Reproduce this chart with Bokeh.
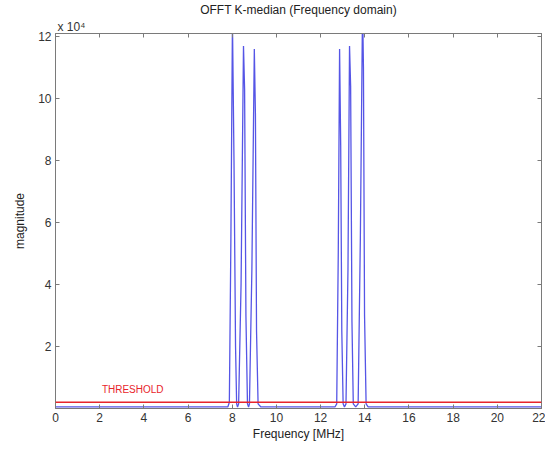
from bokeh.plotting import figure
from bokeh.models import Range1d, LinearAxis, FixedTicker, CustomJSTickFormatter, Label, Span
from bokeh.embed import file_html
from bokeh.resources import INLINE

# ---- data ----
freq_mhz = [0.0, 4.0, 7.80, 7.87, 7.94, 8.01, 8.08, 8.15, 8.20, 8.24, 8.29, 8.40, 8.51, 8.56, 8.62, 8.69,
            8.74, 8.78, 8.89, 9.00, 9.05, 9.10, 9.17, 9.30, 11.0, 12.65, 12.73, 12.80, 12.86, 12.91,
            12.96, 13.02, 13.08, 13.15, 13.24, 13.31, 13.36, 13.42, 13.48, 13.59, 13.70, 13.80, 13.90,
            13.94, 13.99, 14.06, 14.15, 18.0, 22.0]
magnitude = [500, 500, 500, 2000, 55000, 125000, 80000, 20000, 1500, 500, 1500, 40000, 117000, 103000, 30000, 1500,
             500, 1500, 45000, 116000, 95000, 25000, 1500, 500, 500, 500, 1500, 50000, 116000, 85000,
             25000, 1500, 500, 1500, 45000, 117000, 104000, 28000, 1500, 500, 1500, 55000, 130000,
             110000, 30000, 1500, 500, 500, 500]
threshold = 2000
x_ticks = list(range(0, 23, 2))
y_ticks = [20000, 40000, 60000, 80000, 100000, 120000]
y_scale_label = "x 10\u2074"

FONT = "Liberation Sans"
AX = "#7a7a7a"
TXT = "#333333"

p = figure(frame_width=486, frame_height=375, output_backend="svg", toolbar_location=None,
           x_range=Range1d(0, 22), y_range=Range1d(0, 121000),
           min_border_left=55, min_border_right=4, min_border_top=33, min_border_bottom=10,
           title="OFFT K-median (Frequency domain)")
p.title.align = "center"
p.title.text_font = FONT
p.title.text_font_size = "12px"
p.title.text_font_style = "normal"
p.title.text_color = "#222222"
p.title.standoff = 0
p.grid.visible = False
p.outline_line_color = AX
p.outline_line_width = 1
p.background_fill_color = "white"
p.border_fill_color = "white"

p.line(freq_mhz, magnitude, line_color="#5555e6", line_width=1.3)
p.add_layout(Span(location=threshold, dimension="width", line_color="#e8252b", line_width=1.5))
p.add_layout(Label(x=2.1, y=4200, text="THRESHOLD", text_color="#e8252b", text_font=FONT,
                   text_font_size="10px", text_baseline="bottom"))

for ax in (p.xaxis[0], p.yaxis[0]):
    ax.major_tick_in = 4
    ax.major_tick_out = 0
    ax.minor_tick_in = 0
    ax.minor_tick_out = 0
    ax.axis_line_color = AX
    ax.major_tick_line_color = AX
    ax.major_label_text_font = FONT
    ax.major_label_text_font_size = "12px"
    ax.major_label_text_color = TXT
    ax.axis_label_text_font = FONT
    ax.axis_label_text_font_size = "12px"
    ax.axis_label_text_font_style = "normal"
    ax.axis_label_text_color = "#222222"
    ax.major_label_standoff = 4

p.xaxis[0].ticker = FixedTicker(ticks=x_ticks)
p.xaxis[0].axis_label = "Frequency [MHz]"
p.xaxis[0].axis_label_standoff = 2
p.yaxis[0].ticker = FixedTicker(ticks=y_ticks)
p.yaxis[0].formatter = CustomJSTickFormatter(code="return (tick/1e4).toFixed(0);")
p.yaxis[0].axis_label = "magnitude"
p.yaxis[0].axis_label_standoff = 8

# box ticks on top and right
for loc, ticks in (("above", x_ticks), ("right", y_ticks)):
    a = LinearAxis(ticker=FixedTicker(ticks=ticks), major_tick_in=4, major_tick_out=0,
                   minor_tick_in=0, minor_tick_out=0, axis_line_color=AX, major_tick_line_color=AX,
                   formatter=CustomJSTickFormatter(code="return '';"), major_label_standoff=0)
    p.add_layout(a, loc)

# "x 10^4" exponent note above the y axis
unit_axis = LinearAxis(ticker=FixedTicker(ticks=[0.72]), major_tick_in=0, major_tick_out=0,
                       minor_tick_in=0, minor_tick_out=0, axis_line_alpha=0,
                       major_label_overrides={0.72: y_scale_label}, major_label_standoff=0,
                       major_label_text_font=FONT, major_label_text_font_size="12px",
                       major_label_text_color=TXT)
p.add_layout(unit_axis, "above")

open("out.html", "w").write(file_html(p, INLINE))
